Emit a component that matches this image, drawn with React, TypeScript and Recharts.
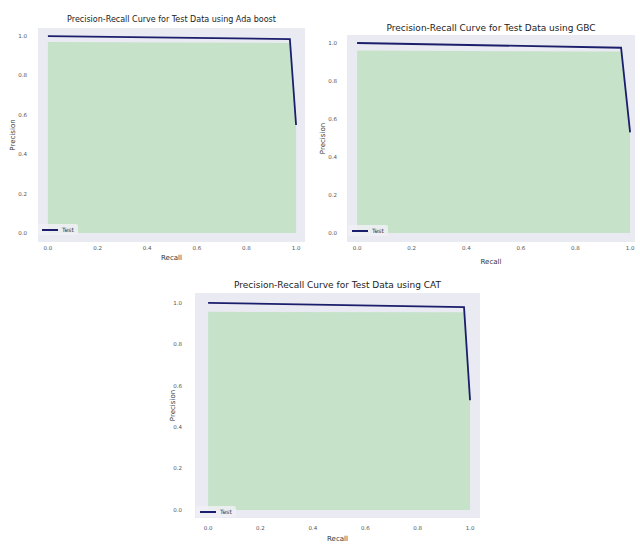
import { Area, CartesianGrid, ComposedChart, Label, Line, XAxis, YAxis } from "recharts";

const TICKS = [0, 0.2, 0.4, 0.6, 0.8, 1.0];

const ADA_RECALL = [0, 0.975, 1.0];
const ADA_PRECISION = [1.0, 0.985, 0.548];
const ADA_FILL = [0.97, 0.965, 0.54];

const GBC_RECALL = [0, 0.967, 1.0];
const GBC_PRECISION = [1.0, 0.975, 0.53];
const GBC_FILL = [0.96, 0.955, 0.52];

const CAT_RECALL = [0, 0.977, 1.0];
const CAT_PRECISION = [1.0, 0.98, 0.53];
const CAT_FILL = [0.957, 0.955, 0.52];

const LINE = "#1b1f6b";
const FILL = "#c6e3ca";
const AXES_BG = "#eaeaf2";
const TEXT = "#333";
const FONT = "'DejaVu Sans', sans-serif";

const rows = (recall: number[], precision: number[], fill: number[]) =>
  recall.map((r, i) => ({ recall: r, precision: precision[i], fill: fill[i] }));

type PanelProps = {
  title: string;
  titleSize: number;
  titleY: number;
  data: { recall: number; precision: number; fill: number }[];
  plot: { left: number; top: number; width: number; height: number };
  xDomain: [number, number];
  yDomain: [number, number];
  yTickGap: number;
  xTickGap: number;
  yLabelX: number;
  xLabelY: number;
  legend: { left: number; top: number };
};

const Y_AXIS_W = 44;
const X_AXIS_H = 34;

function Panel(p: PanelProps) {
  const { plot } = p;
  const tick = { fill: "#555", fontSize: 5.5, fontFamily: FONT };
  return (
    <>
      <div
        style={{
          position: "absolute",
          left: plot.left + plot.width / 2,
          top: p.titleY - p.titleSize * 0.6,
          transform: "translateX(-50%)",
          whiteSpace: "nowrap",
          fontFamily: FONT,
          fontSize: p.titleSize,
          color: "#222",
        }}
      >
        {p.title}
      </div>
      <div style={{ position: "absolute", left: plot.left - Y_AXIS_W, top: plot.top }}>
        <ComposedChart
          width={plot.width + Y_AXIS_W}
          height={plot.height + X_AXIS_H}
          data={p.data}
          margin={{ top: 0, right: 0, bottom: 0, left: 0 }}
        >
          <CartesianGrid horizontal={false} vertical={false} fill={AXES_BG} stroke="none" />
          <XAxis
            type="number"
            dataKey="recall"
            domain={p.xDomain}
            ticks={TICKS}
            tickFormatter={(v: number) => v.toFixed(1)}
            axisLine={false}
            tickLine={false}
            tickSize={0}
            tickMargin={p.xTickGap}
            tick={tick}
            height={X_AXIS_H}
            interval={0}
          >
            <Label
              content={(props: any) => {
                const vb = props.viewBox || {};
                return (
                  <text
                    x={vb.x + vb.width / 2}
                    y={vb.y + p.xLabelY}
                    textAnchor="middle"
                    dominantBaseline="central"
                    fontSize={7}
                    fontFamily={FONT}
                    fill={TEXT}
                  >
                    Recall
                  </text>
                );
              }}
            />
          </XAxis>
          <YAxis
            type="number"
            domain={p.yDomain}
            ticks={TICKS}
            tickFormatter={(v: number) => v.toFixed(1)}
            axisLine={false}
            tickLine={false}
            tickSize={0}
            tickMargin={p.yTickGap}
            tick={tick}
            width={Y_AXIS_W}
            interval={0}
          >
            <Label
              content={(props: any) => {
                const vb = props.viewBox || {};
                const x = vb.x + vb.width + p.yLabelX;
                const y = vb.y + vb.height / 2;
                return (
                  <text
                    x={x}
                    y={y}
                    transform={`rotate(-90 ${x} ${y})`}
                    textAnchor="middle"
                    dominantBaseline="central"
                    fontSize={7}
                    fontFamily={FONT}
                    fill={TEXT}
                  >
                    Precision
                  </text>
                );
              }}
            />
          </YAxis>
          <Area
            type="linear"
            dataKey="fill"
            baseValue={0}
            fill={FILL}
            fillOpacity={1}
            stroke="none"
            isAnimationActive={false}
          />
          <Line
            type="linear"
            dataKey="precision"
            stroke={LINE}
            strokeWidth={1.8}
            dot={false}
            isAnimationActive={false}
          />
        </ComposedChart>
      </div>
      <div
        style={{
          position: "absolute",
          left: p.legend.left,
          top: p.legend.top,
          display: "flex",
          alignItems: "center",
          gap: 4,
          padding: "2px 4px",
          background: "rgba(240,240,246,0.85)",
          borderRadius: 2,
          fontFamily: FONT,
          fontSize: 6,
          color: TEXT,
        }}
      >
        <span style={{ width: 16, height: 2, background: LINE, display: "inline-block" }} />
        <span>Test</span>
      </div>
    </>
  );
}

export default function App() {
  return (
    <div style={{ position: "absolute", left: 0, top: 0, width: 640, height: 545, background: "#fff", overflow: "hidden" }}>
      <Panel
        title="Precision-Recall Curve for Test Data using Ada boost"
        titleSize={8}
        titleY={20}
        data={rows(ADA_RECALL, ADA_PRECISION, ADA_FILL)}
        plot={{ left: 38, top: 28, width: 267, height: 214 }}
        xDomain={[-0.04, 1.036]}
        yDomain={[-0.046, 1.041]}
        yTickGap={11}
        xTickGap={4}
        yLabelX={-25}
        xLabelY={16}
        legend={{ left: 38, top: 224 }}
      />
      <Panel
        title="Precision-Recall Curve for Test Data using GBC"
        titleSize={9}
        titleY={28}
        data={rows(GBC_RECALL, GBC_PRECISION, GBC_FILL)}
        plot={{ left: 347, top: 35, width: 288, height: 207 }}
        xDomain={[-0.037, 1.018]}
        yDomain={[-0.047, 1.042]}
        yTickGap={10}
        xTickGap={4}
        yLabelX={-24}
        xLabelY={20}
        legend={{ left: 348, top: 225 }}
      />
      <Panel
        title="Precision-Recall Curve for Test Data using CAT"
        titleSize={9}
        titleY={285}
        data={rows(CAT_RECALL, CAT_PRECISION, CAT_FILL)}
        plot={{ left: 195, top: 293, width: 285, height: 225 }}
        xDomain={[-0.05, 1.038]}
        yDomain={[-0.039, 1.048]}
        yTickGap={13}
        xTickGap={8}
        yLabelX={-22}
        xLabelY={21}
        legend={{ left: 196, top: 506 }}
      />
    </div>
  );
}
